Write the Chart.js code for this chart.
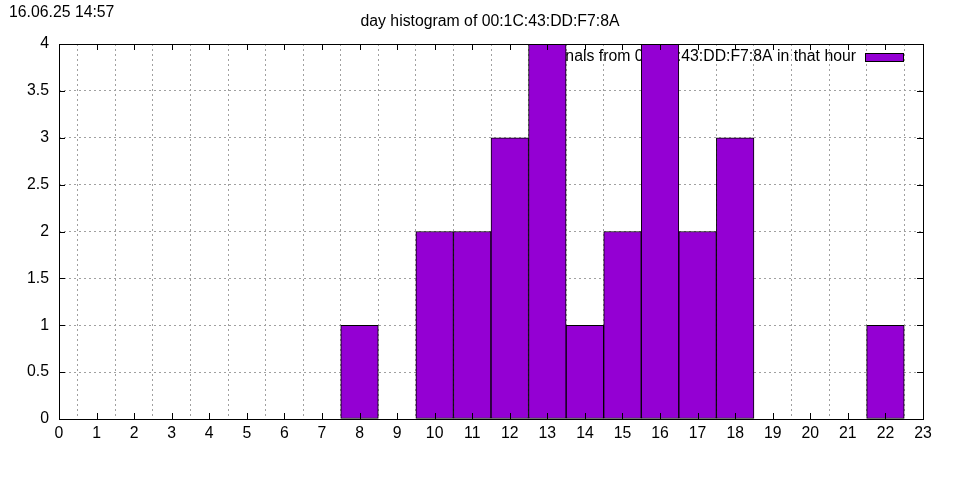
<!DOCTYPE html>
<html>
<head>
<meta charset="utf-8">
<script src="https://cdn.jsdelivr.net/npm/chart.js@4"></script>
<style>
html,body{margin:0;padding:0;background:#fff;}
#wrap{width:960px;height:480px;position:relative;}
</style>
</head>
<body>
<div id="wrap"><canvas id="c" width="960" height="480"></canvas></div>
<script>
const hours = [0,1,2,3,4,5,6,7,8,9,10,11,12,13,14,15,16,17,18,19,20,21,22,23];
const counts = [0,0,0,0,0,0,0,0,1,0,2,2,3,4,1,2,4,2,3,0,0,0,1,0];
const yTicks = [0,0.5,1,1.5,2,2.5,3,3.5,4];
const xTicks = hours;
const titleText = 'day histogram of 00:1C:43:DD:F7:8A';
const stampText = '16.06.25 14:57';
const legendText = 'signals from 00:1C:43:DD:F7:8A in that hour';

const FONT = '"Liberation Sans", Arial, sans-serif';
const FS = 15.8;

const decor = {
  id: 'decor',
  beforeDatasetsDraw(chart) {
    const ctx = chart.ctx, a = chart.chartArea;
    ctx.save();
    ctx.font = FS + 'px ' + FONT;
    ctx.fillStyle = '#000';
    ctx.textAlign = 'right';
    ctx.textBaseline = 'middle';
    ctx.fillText(legendText, a.right - 67, a.top + 13);
    ctx.fillStyle = '#9400d3';
    ctx.fillRect(a.right - 57, a.top + 10, 38, 7);
    ctx.strokeStyle = '#000';
    ctx.lineWidth = 1;
    ctx.strokeRect(a.right - 57.5, a.top + 9.5, 38, 8);
    ctx.restore();
  },
  afterDraw(chart) {
    const ctx = chart.ctx, a = chart.chartArea;
    const xs = chart.scales.x, ys = chart.scales.y;
    ctx.save();
    ctx.strokeStyle = '#000';
    ctx.lineWidth = 1;
    ctx.beginPath();
    yTicks.forEach(v => {
      const y = Math.round(ys.getPixelForValue(v)) + 0.5;
      ctx.moveTo(a.left, y); ctx.lineTo(a.left + 6, y);
      ctx.moveTo(a.right, y); ctx.lineTo(a.right - 6, y);
    });
    xTicks.forEach(v => {
      const x = Math.round(xs.getPixelForValue(v)) + 0.5;
      ctx.moveTo(x, a.bottom); ctx.lineTo(x, a.bottom - 6);
      ctx.moveTo(x, a.top); ctx.lineTo(x, a.top + 6);
    });
    ctx.stroke();
    ctx.strokeRect(Math.round(a.left) + 0.5, Math.round(a.top) + 0.5,
                   Math.round(a.right - a.left), Math.round(a.bottom - a.top));
    ctx.fillStyle = '#000';
    ctx.font = FS + 'px ' + FONT;
    ctx.textBaseline = 'middle';
    ctx.textAlign = 'center';
    ctx.fillText(titleText, 490, 22);
    ctx.textAlign = 'left';
    ctx.fillText(stampText, 9, 13);
    ctx.restore();
  }
};

new Chart(document.getElementById('c'), {
  type: 'bar',
  data: {
    datasets: [{
      label: legendText,
      data: hours.map((h, i) => ({x: h, y: counts[i]})),
      backgroundColor: '#9400d3',
      borderColor: '#000',
      borderWidth: 1,
      borderSkipped: false,
      barPercentage: 1,
      categoryPercentage: 1
    }]
  },
  options: {
    responsive: false,
    animation: false,
    devicePixelRatio: 1,
    layout: {padding: {left: 0, right: 37, top: 44, bottom: 0}},
    plugins: {legend: {display: false}, title: {display: false}, tooltip: {enabled: false}},
    scales: {
      x: {
        type: 'linear', min: 0, max: 23, offset: false,
        afterBuildTicks: s => { s.ticks = xTicks.map(v => ({value: v})); },
        afterFit: s => { s.height = 61; },
        ticks: {color: '#000', font: {family: FONT, size: FS}, padding: 5, maxRotation: 0, autoSkip: false,
                callback: v => String(v)},
        grid: {color: '#a0a0a0', lineWidth: 1, drawTicks: false, tickLength: 0},
        border: {display: false, dash: [2, 3]}
      },
      y: {
        min: 0, max: 4,
        afterBuildTicks: s => { s.ticks = yTicks.map(v => ({value: v})); },
        afterFit: s => { s.width = 59; },
        ticks: {color: '#000', font: {family: FONT, size: FS}, padding: 10, callback: v => String(v)},
        grid: {color: '#a0a0a0', lineWidth: 1, drawTicks: false, tickLength: 0},
        border: {display: false, dash: [2, 3]}
      }
    }
  },
  plugins: [decor]
});
</script>
</body>
</html>
